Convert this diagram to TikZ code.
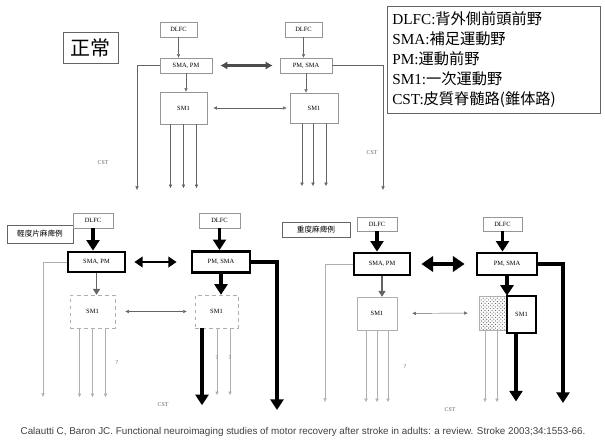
\documentclass[tikz,border=0pt]{standalone}
\usepackage{fontspec}
\setmainfont{Liberation Serif}
\setsansfont{Liberation Sans}
\newfontfamily\jp{Noto Sans CJK JP}
\usepackage{tikz}
\usepackage{xcolor}
\usetikzlibrary{arrows.meta, calc, patterns}
\definecolor{boxGray}{RGB}{150,150,150}
\definecolor{lineGray}{RGB}{100,100,100}
\definecolor{faintGray}{RGB}{175,175,175}

\begin{document}
\begin{tikzpicture}[x=0.03cm, y=-0.03cm,
    wh/.style 2 args={minimum width=#1*0.03cm, minimum height=#2*0.03cm},
    smallbox/.style={draw=boxGray, thin, fill=white, inner sep=0pt, font=\fontsize{5.5}{6}\selectfont},
    bigbox/.style={draw=black, line width=2.4pt, fill=white, inner sep=0pt, font=\fontsize{5.5}{6}\selectfont},
    faintbox/.style={draw=faintGray, thin, fill=white, inner sep=0pt, font=\fontsize{5.5}{6}\selectfont},
    shadebox/.style={draw=faintGray, thin, pattern=crosshatch dots, pattern color=black!65, inner sep=0pt},
    lblbox/.style={draw=lineGray, thin, inner sep=0pt, font=\jp\fontsize{6.5}{7}\selectfont},
    thinarr/.style={draw=lineGray, thin, -{Latex[length=3pt,width=3pt]}},
    faintarr/.style={draw=faintGray, thin, -{Latex[length=3pt,width=3pt]}},
    thickarr/.style={draw=black, line width=2.6pt, -{Triangle[length=9pt,width=11pt]}},
    dblarr/.style={draw=black, line width=2.2pt, {Triangle[length=7pt,width=9pt]}-{Triangle[length=7pt,width=9pt]}},
    dblthin/.style={draw=lineGray, thin, {Latex[length=3pt,width=3pt]}-{Latex[length=3pt,width=3pt]}},
    small/.style={font=\fontsize{5}{5}\selectfont, text=lineGray, inner sep=0pt}]
    \useasboundingbox (0,0) rectangle (605,444);

    \node[draw=lineGray, thick, wh={55}{31}, font=\jp\fontsize{17}{17}\selectfont] (normal) at (90.5,47.5) {正常};
    \node[draw=lineGray, thin, wh={212}{107}, text width=6.1cm, align=left, inner xsep=4pt,
          font=\fontsize{13}{17}\selectfont] (legend) at (494,59.5)
          {DLFC:{\jp 背外側前頭前野}\\SMA:{\jp 補足運動野}\\PM:{\jp 運動前野}\\SM1:{\jp 一次運動野}\\CST:{\jp 皮質脊髄路(錐体路)}};

    \node[smallbox, wh={37}{15}] (dlTL) at (178.5,29.5) {DLFC};
    \node[smallbox, wh={52}{15}] (smaTL) at (186,65.5) {SMA, PM};
    \node[smallbox, wh={47}{32}] (smTL) at (183.5,108) {SM1};
    \node[smallbox, wh={37}{15}] (dlTR) at (303.5,29.5) {DLFC};
    \node[smallbox, wh={52}{15}] (pmTR) at (306,65.5) {PM, SMA};
    \node[smallbox, wh={48}{30}] (smTR) at (314,108) {SM1};
    \coordinate (eTL) at (137,190); \coordinate (eTR) at (383,190);
    \draw[thinarr] (dlTL.south) -- (dlTL.south |- smaTL.north);
    \draw[thinarr] (dlTR.south) -- (dlTR.south |- pmTR.north);
    \draw[thinarr] (smaTL.south) -- (smaTL.south |- smTL.north);
    \draw[thinarr] (pmTR.south) -- (pmTR.south |- smTR.north);
    \draw[thinarr] (smaTL.west) -| (eTL);
    \draw[thinarr] (pmTR.east) -| (eTR);
    \foreach \dx in {-13,0,13} \draw[thinarr] ($(smTL.south)+(\dx,0)$) -- ++(0,64);
    \foreach \dx in {-12,-1,12} \draw[thinarr] ($(smTR.south)+(\dx,0)$) -- ++(0,63);
    \draw[draw=black!70, line width=2.4pt, {Latex[length=6pt,width=7pt]}-{Latex[length=6pt,width=7pt]}, shorten <=0.24cm, shorten >=0.21cm] (smaTL) -- (pmTR);
    \draw[dblthin, shorten <=0.18cm, shorten >=0.09cm] (smTL) -- (smTR);
    \node[small] (cstTL) at (103,163) {CST};
    \node[small] (cstTR) at (372,153) {CST};

    \node[lblbox, wh={66}{18}] (mildLbl) at (40,234) {軽度片麻痺例};
    \node[smallbox, wh={40}{15}] (dlBL) at (93,220.5) {DLFC};
    \node[bigbox, wh={57}{20}] (smaBL) at (96.5,262) {SMA, PM};
    \node[faintbox, dashed, wh={45}{33}] (smBL) at (92.5,311.5) {SM1};
    \node[smallbox, wh={41}{15}] (dlBL2) at (219.5,220.5) {DLFC};
    \node[bigbox, wh={58}{21}] (pmBL) at (221,262) {PM, SMA};
    \node[faintbox, dashed, wh={43}{33}] (smBL2) at (216.5,311.5) {SM1};
    \coordinate (eBL) at (43,397); \coordinate (eBL2) at (277,410);
    \draw[thickarr] (dlBL.south) -- (dlBL.south |- smaBL.north);
    \draw[thickarr] (dlBL2.south) -- (dlBL2.south |- pmBL.north);
    \draw[draw=lineGray, line width=1pt, -{Triangle[length=5pt,width=6pt]}] (smaBL.south) -- (smaBL.south |- smBL.north);
    \draw[thickarr] (pmBL.south) -- (pmBL.south |- smBL2.north);
    \draw[faintarr] (smaBL.west) -| (eBL);
    \draw[thickarr] (pmBL.east) -| (eBL2);
    \foreach \dx in {-13,0,13} \draw[faintarr] ($(smBL.south)+(\dx,0)$) -- ++(0,69);
    \draw[thickarr] ($(smBL2.south)+(-14.5,0)$) -- ++(0,77);
    \foreach \dx in {0.5,13.5} \draw[faintarr] ($(smBL2.south)+(\dx,0)$) -- ++(0,67);
    \draw[dblarr, shorten <=0.24cm, shorten >=0.42cm] (smaBL) -- (pmBL);
    \draw[dblthin, shorten <=0.3cm, shorten >=0.24cm] (smBL) -- (smBL2);
    \node[small] (qBL) at (117,363) {?};
    \node[small] (qBL2) at (217,358) {?};
    \node[small] (qBL3) at (230,358) {?};
    \node[small] (cstBL) at (163,405) {CST};

    \node[lblbox, wh={68}{15}] (sevLbl) at (316,229.5) {重度麻痺例};
    \node[smallbox, wh={40}{14}] (dlBR) at (377,224) {DLFC};
    \node[bigbox, wh={56}{22}] (smaBR) at (382,264) {SMA, PM};
    \node[faintbox, wh={40}{33}] (smBR) at (377,313.5) {SM1};
    \node[smallbox, wh={39}{14}] (dlBR2) at (502.5,224) {DLFC};
    \node[bigbox, wh={60}{22}] (pmBR) at (507,264) {PM, SMA};
    \node[shadebox, wh={27}{34}] (shBR) at (492.5,313) {};
    \node[bigbox, wh={29}{37}] (smBR2) at (521.5,314.5) {SM1};
    \coordinate (eBR) at (325,402); \coordinate (eBR2) at (563,403);
    \draw[thickarr] (dlBR.south) -- (dlBR.south |- smaBR.north);
    \draw[thickarr] (dlBR2.south) -- (dlBR2.south |- pmBR.north);
    \draw[draw=lineGray, line width=1pt, -{Triangle[length=5pt,width=6pt]}] (smaBR.south) -- (smaBR.south |- smBR.north);
    \draw[thickarr] (pmBR.south) -- (pmBR.south |- shBR.north);
    \draw[faintarr] (smaBR.west) -| (eBR);
    \draw[thickarr] (pmBR.east) -| (eBR2);
    \foreach \dx in {-11,0,11} \draw[faintarr] ($(smBR.south)+(\dx,0)$) -- ++(0,72);
    \foreach \dx in {-7.5,4.5} \draw[faintarr] ($(shBR.south)+(\dx,0)$) -- ++(0,72);
    \draw[thickarr] ($(smBR2.south)+(-5.5,0)$) -- ++(0,67);
    \draw[draw=black, line width=3.2pt, {Triangle[length=10pt,width=13pt]}-{Triangle[length=10pt,width=13pt]}, shorten <=0.3cm, shorten >=0.33cm] (smaBR) -- (pmBR);
    \draw[dblthin, shorten <=0.45cm, shorten >=0.33cm] (smBR) -- (shBR);
    \node[small] (qBR) at (405,367) {?};
    \node[small] (cstBR) at (450,410) {CST};

    \node[font=\sffamily\fontsize{8.4}{9}\selectfont, text=black!75] (cite) at (303,432)
        {Calautti C, Baron JC. Functional neuroimaging studies of motor recovery after stroke in adults: a review. Stroke 2003;34:1553-66.};
\end{tikzpicture}
\end{document}
